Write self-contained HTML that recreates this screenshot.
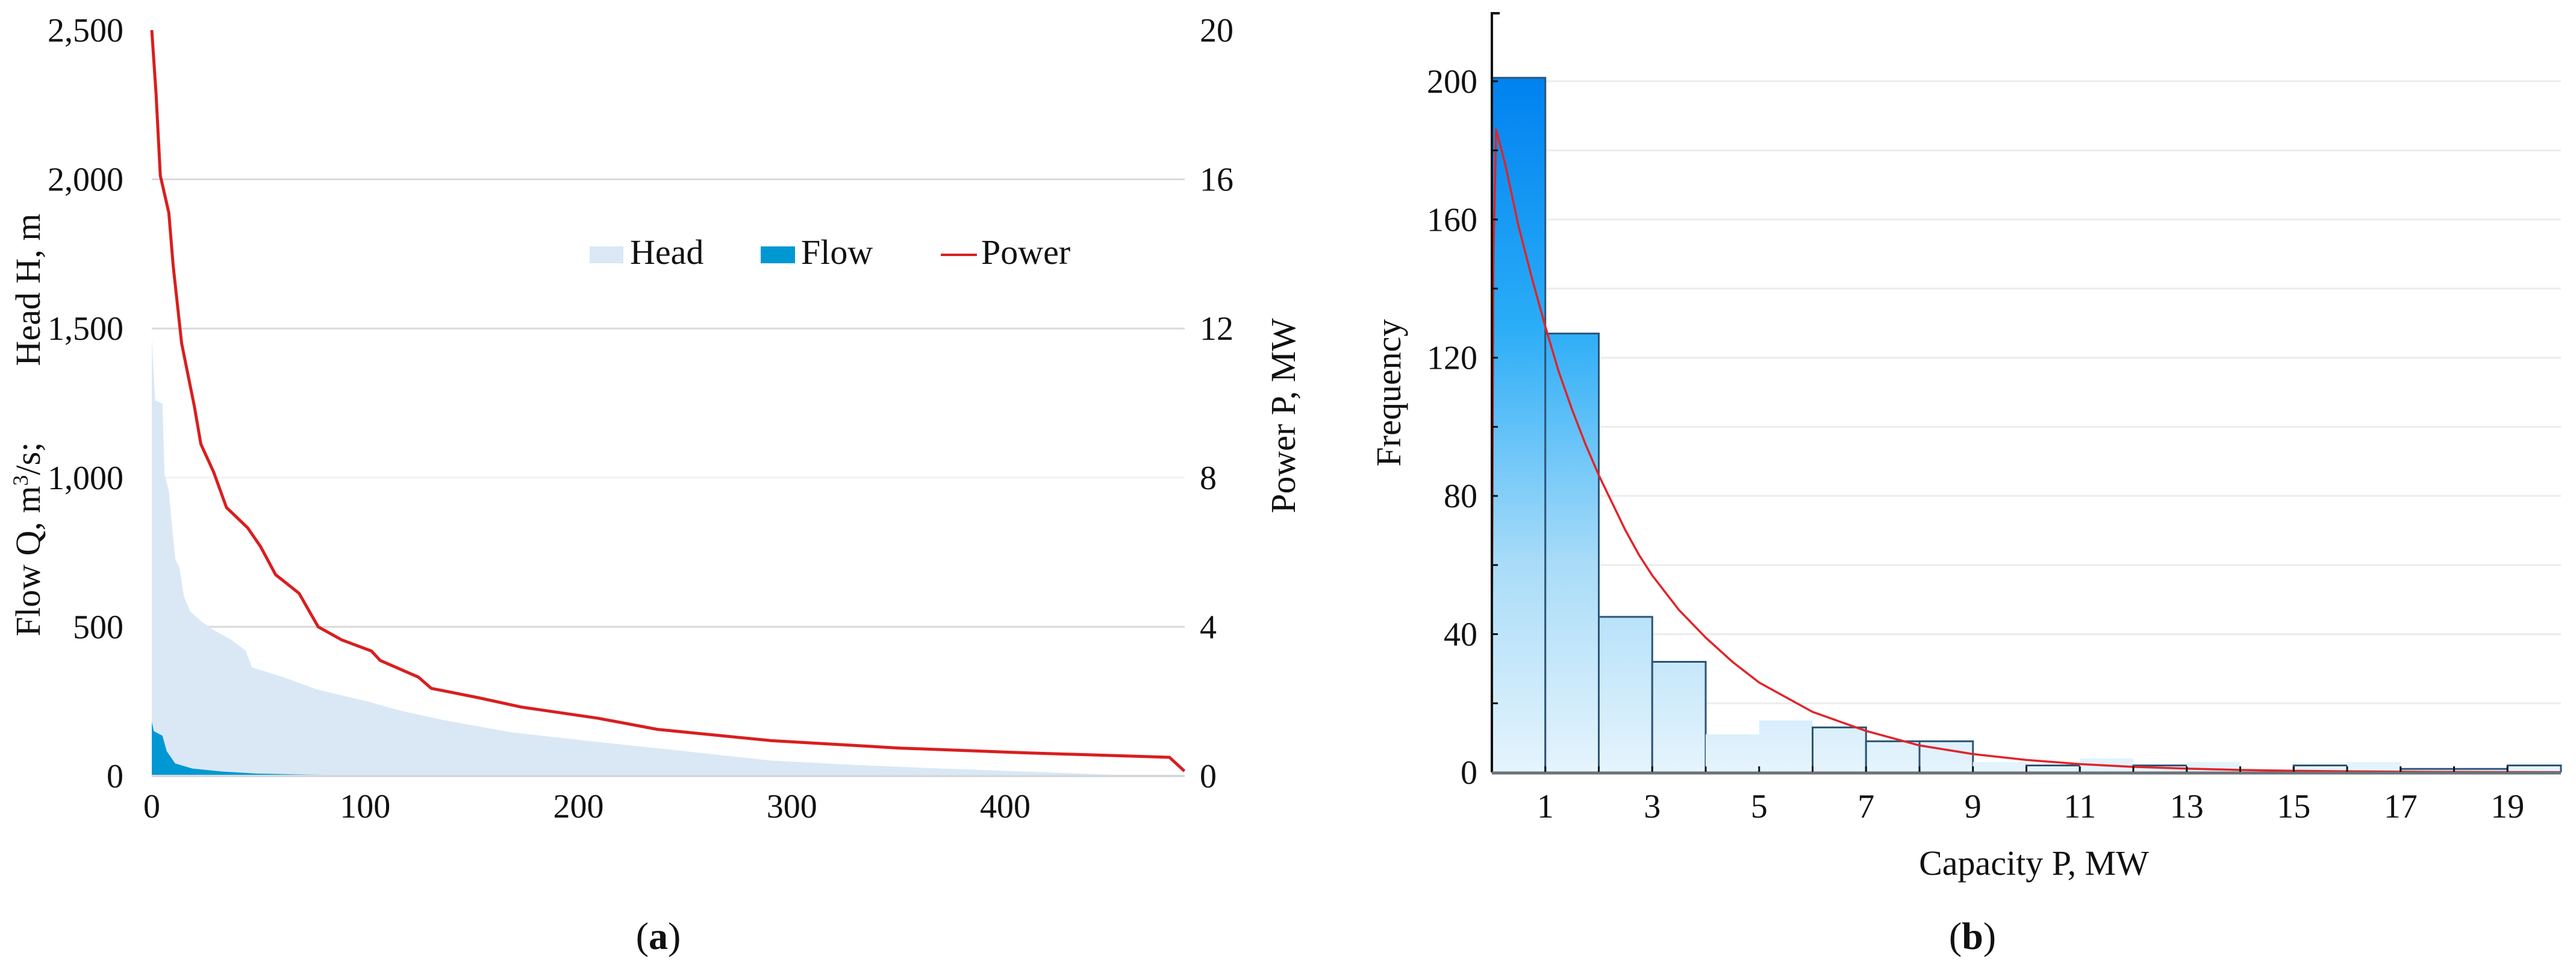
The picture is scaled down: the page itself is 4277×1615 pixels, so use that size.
<!DOCTYPE html>
<html><head><meta charset="utf-8"><style>
html,body{margin:0;padding:0;background:#fff;}
svg{display:block;}
text{font-family:"Liberation Serif",serif;fill:#111;}
</style></head><body>
<svg id="fig" width="4277" height="1615" viewBox="0 0 4277 1615" xmlns="http://www.w3.org/2000/svg">
<defs>
<linearGradient id="barGrad" gradientUnits="userSpaceOnUse" x1="0" y1="132" x2="0" y2="1282">
<stop offset="0" stop-color="#0082f0"/>
<stop offset="0.35" stop-color="#29acf7"/>
<stop offset="0.7" stop-color="#a9dcf8"/>
<stop offset="1" stop-color="#e6f4fd"/>
</linearGradient>
<linearGradient id="flowGrad" gradientUnits="userSpaceOnUse" x1="252" y1="0" x2="700" y2="0">
<stop offset="0" stop-color="#0098d3"/>
<stop offset="0.45" stop-color="#0098d3"/>
<stop offset="0.6" stop-color="#5cc7ec"/>
<stop offset="1" stop-color="#a8e4f7"/>
</linearGradient>
</defs>
<g id="chartA"></g>
<g id="chartB"></g>
<text x="1093" y="1575" font-size="64" text-anchor="middle">(<tspan font-weight="bold">a</tspan>)</text>
<text x="3275" y="1575" font-size="64" text-anchor="middle">(<tspan font-weight="bold">b</tspan>)</text>
</svg>
<script>
// ---- Chart A data ----
const powerIdx = [0,2,4,8,10,14,20,23,29,35,45,51,58,69,78,89,103,107,125,131,153,173,209,237,290,350,410,477,484];
const powerVal = [20,18.3,16.1,15.1,13.7,11.6,9.9,8.9,8.15,7.2,6.65,6.15,5.4,4.9,4.0,3.65,3.35,3.1,2.65,2.35,2.1,1.85,1.55,1.25,0.95,0.75,0.62,0.5,0.13];
const headIdx = [0,1.6,2,5,6,8,9,11,13,15,18,23,29,37,44,47,61,77,89,101,117,137,169,209,250,290,330,370,410,450,462];
const headVal = [1466,1258,1258,1248,1009,957,874,728,697,603,551,520,489,458,420,364,333,291,270,250,218,187,146,114,83,52,37,25,15,4,0];
const flowIdx = [0,1,5,7,11,19,33,49,97,115];
const flowVal = [181,150,135,83,42,25,15,8,2,0];
const xTicksA = [0,100,200,300,400];
const yTicksLeft = [0,500,1000,1500,2000,2500];
const yTickLabelsLeft = ["0","500","1,000","1,500","2,000","2,500"];
const yTicksRight = [0,4,8,12,16,20];

// ---- Chart B data ----
const binStarts = [0,1,2,3,4,5,6,7,8,9,10,11,12,13,14,15,16,17,18,19];
const binCounts = [201,127,45,32,11,15,13,9,9,3,2,4,2,3,0,2,3,1,1,2];
const binOutlined = [1,1,1,1,0,0,1,1,1,0,1,0,1,0,1,1,0,1,1,1];
const fitX = [0,0.03,0.08,0.25,0.5,0.75,1,1.25,1.5,1.75,2,2.25,2.5,2.75,3,3.5,4,4.5,5,6,7,8,9,10,11,12,13,14,15,16,17,18,19,20];
const fitY = [40,150,186,176,158,143,129,116,105,95,86,78,70,63,57,47,39,32,26,17.5,12,7.8,5.3,3.6,2.4,1.6,1.1,0.7,0.45,0.3,0.2,0.13,0.09,0.06];
const yTicksB = [0,40,80,120,160,200];
const xTicksB = [1,3,5,7,9,11,13,15,17,19];

const NS = "http://www.w3.org/2000/svg";
function mk(parent, tag, attrs, txt){
  const e = document.createElementNS(NS, tag);
  for (const k in attrs) e.setAttribute(k, attrs[k]);
  if (txt !== undefined) e.textContent = txt;
  parent.appendChild(e);
  return e;
}

// ----- Chart A -----
const A = document.getElementById('chartA');
const ax = i => 252 + i * 3.5425;
const ayH = v => 1288 - v * (1238/2500);
const ayP = v => 1288 - v * (1238/20);

yTicksLeft.forEach((v,i)=>{
  if (v > 0 && v < 2500) {
    const g = mk(A,'line',{x1:252,x2:1967,y1:ayH(v),y2:ayH(v),stroke: v===1000?'#f2f2f2':'#d9d9d9','stroke-width':3});
    
    
  }
  const t = mk(A,'text',{x:205,y:ayH(v)+19,'font-size':56,'text-anchor':'end'},yTickLabelsLeft[i]);
  
  
});
yTicksRight.forEach(v=>{
  const t = mk(A,'text',{x:1992,y:ayP(v)+19,'font-size':56,'text-anchor':'start'},String(v));
  
  
});
xTicksA.forEach(v=>{
  const t = mk(A,'text',{x:ax(v),y:1357,'font-size':56,'text-anchor':'middle'},String(v));
  
  
});

function area(idx, val, yf){
  let d = 'M'+ax(idx[0])+','+yf(0);
  for (let i=0;i<idx.length;i++) d += ' L'+ax(idx[i])+','+yf(val[i]);
  d += ' L'+ax(idx[idx.length-1])+','+yf(0)+' Z';
  return d;
}
const head = mk(A,'path',{d:area(headIdx,headVal,ayH),fill:'#dae8f5'});


const flow = mk(A,'path',{d:area(flowIdx,flowVal,ayH),fill:'url(#flowGrad)'});



const base = mk(A,'line',{x1:252,x2:1967,y1:1288,y2:1288,stroke:'#d6d9dc','stroke-width':4});



let pd = '';
for (let i=0;i<powerIdx.length;i++){
  pd += (i?' L':'M')+ax(powerIdx[i])+','+ayP(powerVal[i]);
}
const pl = mk(A,'path',{d:pd,fill:'none',stroke:'#d91e1e','stroke-width':5,'stroke-linejoin':'round'});



// legend
const lg = mk(A,'g',{});


const l1 = mk(lg,'rect',{x:979,y:409,width:56,height:28,fill:'#dae8f5'});


const l1t = mk(lg,'text',{x:1046,y:438,'font-size':58},'Head');


const l2 = mk(lg,'rect',{x:1263,y:409,width:57,height:28,fill:'#0098d3'});


const l2t = mk(lg,'text',{x:1330,y:438,'font-size':58},'Flow');


const l3 = mk(lg,'line',{x1:1562,x2:1622,y1:423,y2:423,stroke:'#d91e1e','stroke-width':4});


const l3t = mk(lg,'text',{x:1629,y:438,'font-size':58},'Power');



// axis titles
const yt1 = mk(A,'text',{x:0,y:0,'font-size':58,'text-anchor':'middle',transform:'translate(66,481) rotate(-90)'},'Head H, m');


const yt2 = mk(A,'text',{x:0,y:0,'font-size':58,'text-anchor':'middle',transform:'translate(66,895) rotate(-90)'});


yt2.innerHTML = 'Flow Q, m<tspan font-size="36" dy="-20">3</tspan><tspan dy="20">/s;</tspan>';
const yt3 = mk(A,'text',{x:0,y:0,'font-size':58,'text-anchor':'middle',transform:'translate(2150,690) rotate(-90)'},'Power P, MW');



// ----- Chart B -----
const B = document.getElementById('chartB');
const bx = v => 2477 + v * 88.75;
const by = v => 1282 - v * (1150/200.5);

for (let v=20; v<=200; v+=20){
  const g = mk(B,'line',{x1:2477,x2:4252,y1:by(v),y2:by(v),stroke:'#ececec','stroke-width':3});
  
  
}
binStarts.forEach((s,i)=>{
  const c = binCounts[i];
  if (c <= 0) return;
  const r = mk(B,'rect',{x:bx(s),y:by(c),width:bx(s+1)-bx(s),height:by(0)-by(c),fill:'url(#barGrad)'});
  
  
  if (binOutlined[i]) {
    mk(B,'path',{d:'M'+bx(s)+','+by(0)+' V'+by(c)+' H'+bx(s+1)+' V'+by(0),fill:'none',stroke:'#2e5478','stroke-width':3});
  }
});
let fd='';
fitX.forEach((x,i)=>{ fd += (i?' L':'M')+bx(x)+','+by(fitY[i]); });
const fl = mk(B,'path',{d:fd,fill:'none',stroke:'#e0242a','stroke-width':3.5,'stroke-linejoin':'round'});



const yax = mk(B,'path',{d:'M2490,22 H2477 V1282',fill:'none',stroke:'#111','stroke-width':4});


for (let v=20; v<=200; v+=20){
  mk(B,'line',{x1:2477,x2:2487,y1:by(v),y2:by(v),stroke:'#111','stroke-width':3});
}
const xax = mk(B,'line',{x1:2477,x2:4252,y1:1283,y2:1283,stroke:'#6d7378','stroke-width':5});


for (let v=1; v<20; v++){
  mk(B,'line',{x1:bx(v),x2:bx(v),y1:1281,y2:1272,stroke:'#111','stroke-width':3});
}
yTicksB.forEach(v=>{
  const t = mk(B,'text',{x:2453,y:by(v)+19,'font-size':56,'text-anchor':'end'},String(v));
  
  
});
xTicksB.forEach(v=>{
  const t = mk(B,'text',{x:bx(v),y:1357,'font-size':56,'text-anchor':'middle'},String(v));
  
  
});
const xtb = mk(B,'text',{x:3377,y:1452,'font-size':58,'text-anchor':'middle'},'Capacity P, MW');


const ytb = mk(B,'text',{x:0,y:0,'font-size':58,'text-anchor':'middle',transform:'translate(2325,652) rotate(-90)'},'Frequency');


</script>
</body></html>
